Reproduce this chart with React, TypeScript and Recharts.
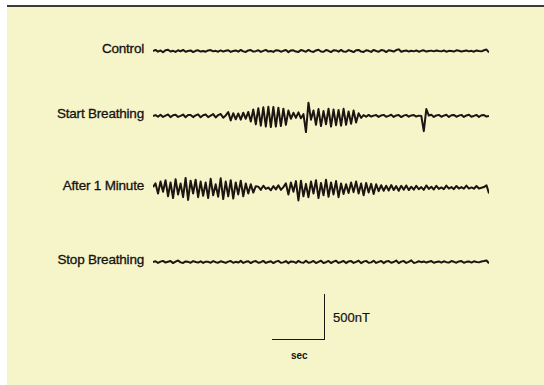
import React from 'react';
import { LineChart, Line, XAxis, YAxis } from 'recharts';

// magnetometer traces, nT, sampled evenly along each trace
const traceLabels = ['Control', 'Start Breathing', 'After 1 Minute', 'Stop Breathing'];

const control = [
  0, 12, -8, 6, -14, 8, 14, -6, 2, -10, 8, -4, 12, -8, 0, 6, -12, 2, 8, -6, 0, -8, 6, 10, -4, 2, -8, 6,
  -6, 2, 8, -10, 0, 6, -8, 12, -4, -10, 6, 10, -6, -2, 8, -10, 2, 12, -6, 0, -10, 8, 6, -8, 2, 10, -12,
  6, 8, -6, -10, 10, 2, -8, 12, -4, -10, 6, 14, -6, -8, 10, 2, -12, 8, 6, -8, 12, -6, -8, 10, 0, -12, 8,
  12, -6, -10, 8, 2, -10, 12, 0, -8, 10, 6, -12, 8, 2, -6, 10, 18, -8, 0, 6, -6, 2, -4, 6, -8, 2, 8, -6,
  0, 4, -4, 6, 0, -4, 6, -8, 2, 0, -6, 8, 2, -6, 0, 6, -4, 2, -8, 6, 0, -4, 8, 16, -16,
];

const startBreathing = [
  0, 10, -8, 14, -10, 4, 16, -12, 8, 14, -10, 2, 16, -14, 10, 12, -12, 6, 18, -14, 8, 16, -12, 4, 20,
  -16, 10, 22, -18, 6,
  42, -48, 30, -36, 28, -40, 36, -30, 44,
  -60, 70, -90, 85, -105, 95, -115, 100, -120, 98, -115, 90, -110, 80, -95, 60,
  -30, 35, -20, 40, -25, 20,
  -175, 145, -40,
  60, -95, 75, -110, 55, -90, 80, -115, 70, -100, 65, -105, 78, -95, 50, -85, 60, -70, 30, -20,
  10, -8, 12, -6, 4, 10, -10, 6, 12, -8, 2, 14, -10, 6, 10, -12, 4, 12, -8, 6, 10, -6, 4, 0,
  -165, 75, 5,
  14, -10, 6, 12, -8, 4, 14, -10, 8, 12, -8, 4, 12, -10, 6, 14, -8, 2, 12, -10, 8, 10, -6, 0,
];

const afterOneMinute = [
  10, 50, -60, 70, -40, 85, -90, 60, -110, 95, -70, 50, -100, 110, -130, 80, -60, 90, -100, 70, -85,
  60, -110, 100, -80, 40, -95, 105, -120, 70, -90, 85, -115, 60, -70, 80, -90, 50, -60, 40, -50, 20,
  15, -20, 25, -10, 5, -25, 20, -15, 30, -20, 10,
  50, -70, 60, -40, 75, -135, 80, -90, 45, -100, 70, -60, 85, -110, 55, -80, 90, -95, 60, -70, 75,
  -100, 50, -65, 40,
  -55, 60, -45, 70, -60, 50, -80, 55, -50, 45, -65, 40, -35,
  30, -30, 25, -28, 32, -22, 20, -30, 24, -18, 28, -22, 14, -18, 24, -14, 10, -20, 28, -10, 14, -16,
  24, -10, 6, -12, 26, -6, 10, -12, 22, -6, 10, -8, 26, -6, 6, -8, 22, -6, 2, 10, 30, -60,
];

const stopBreathing = [
  0, 8, -10, 4, 12, -6, 2, 10, -12, 4, 16, -4, -10, 6, 2, -8, 10, 0, -6, 8, -10, 4, 2, -8, 10, -2, -8,
  8, 0, -10, 4, 10, -8, 2, -6, 12, -10, 2, 8, -12, 4, 10, -8, -2, 12, -10, 0, 8, -12, 4, 12, -8, -4, 10,
  -12, 6, 4, -10, 12, -4, -8, 14, -8, -2, 12, -12, 2, 14, -10, -2, 12, -12, 4, 14, -10, 0, 12, -12, 6,
  10, -10, 2, 14, -12, 4, 12, -8, -4, 14, -10, 2, 12, -12, 6, 10, -8, 0, 16, -12, 4, 10, -10, 2, 18,
  -10, -4, 8, -2, 6, -6, 2, 10, -8, 0, 6, -6, 8, -2, -6, 10, 2, -8, 6, 10, -8, 2, 6, -6, 8, 0, -4, 6,
  10, 16, -14,
];

const traces = [control, startBreathing, afterOneMinute, stopBreathing];
const baselines = [51, 116, 188, 262];

// scale bar
const SCALE_NT = 500;
const SCALE_SEC = 1;
const scaleBar = [
  { t: 0, v: 0 },
  { t: SCALE_SEC, v: 0 },
  { t: SCALE_SEC, v: SCALE_NT },
];

const INK = '#1c1511';
const FONT = '"Liberation Sans", Arial, sans-serif';

const TRACE_LEFT = 153;
const TRACE_WIDTH = 336;
const TRACE_HEIGHT = 50;
const NT_RANGE = 272; // half of the visible range in nT

const Trace = ({ values, top }: { values: number[]; top: number }) => {
  const data = values.map((v, i) => ({ i, v }));
  return (
    <div style={{ position: 'absolute', left: TRACE_LEFT, top: top - TRACE_HEIGHT / 2 }}>
      <LineChart width={TRACE_WIDTH} height={TRACE_HEIGHT} data={data} margin={{ top: 0, right: 0, bottom: 0, left: 0 }}>
        <XAxis type="number" dataKey="i" domain={[0, values.length - 1]} hide />
        <YAxis type="number" domain={[-NT_RANGE, NT_RANGE]} hide />
        <Line
          type="linear"
          dataKey="v"
          stroke={INK}
          strokeWidth={2}
          strokeLinejoin="round"
          dot={false}
          isAnimationActive={false}
        />
      </LineChart>
    </div>
  );
};

export default function App() {
  return (
    <div style={{ position: 'absolute', left: 0, top: 0, width: 544, height: 385, background: '#ffffff', overflow: 'hidden' }}>
      <div
        style={{
          position: 'absolute',
          left: 7,
          top: 5,
          width: 537,
          height: 380,
          background: '#f6f4c9',
          borderTop: '2px solid #3d3a38',
        }}
      />
      {traceLabels.map((label, k) => (
        <div
          key={label}
          style={{
            position: 'absolute',
            left: 0,
            width: 144,
            top: baselines[k] - 9,
            textAlign: 'right',
            fontFamily: FONT,
            fontSize: 13.5,
            lineHeight: '14px',
            color: '#141210',
            letterSpacing: -0.2,
            WebkitTextStroke: '0.3px #141210',
          }}
        >
          {label}
        </div>
      ))}
      {traces.map((values, k) => (
        <Trace key={k} values={values} top={baselines[k]} />
      ))}
      <div style={{ position: 'absolute', left: 272, top: 294 }}>
        <LineChart width={53} height={46} data={scaleBar} margin={{ top: 0, right: 0, bottom: 0, left: 0 }}>
          <XAxis type="number" dataKey="t" domain={[0, SCALE_SEC]} hide />
          <YAxis type="number" domain={[0, SCALE_NT]} hide />
          <Line
            type="linear"
            dataKey="v"
            stroke={INK}
            strokeWidth={2}
            dot={false}
            isAnimationActive={false}
          />
        </LineChart>
      </div>
      <div style={{ position: 'absolute', left: 333, top: 311, fontFamily: FONT, fontSize: 13, lineHeight: '14px', color: '#141210', WebkitTextStroke: '0.2px #141210' }}>
        {SCALE_NT}nT
      </div>
      <div style={{ position: 'absolute', left: 291, top: 350, fontFamily: FONT, fontSize: 10, fontWeight: 700, lineHeight: '12px', color: '#141210' }}>
        sec
      </div>
    </div>
  );
}
